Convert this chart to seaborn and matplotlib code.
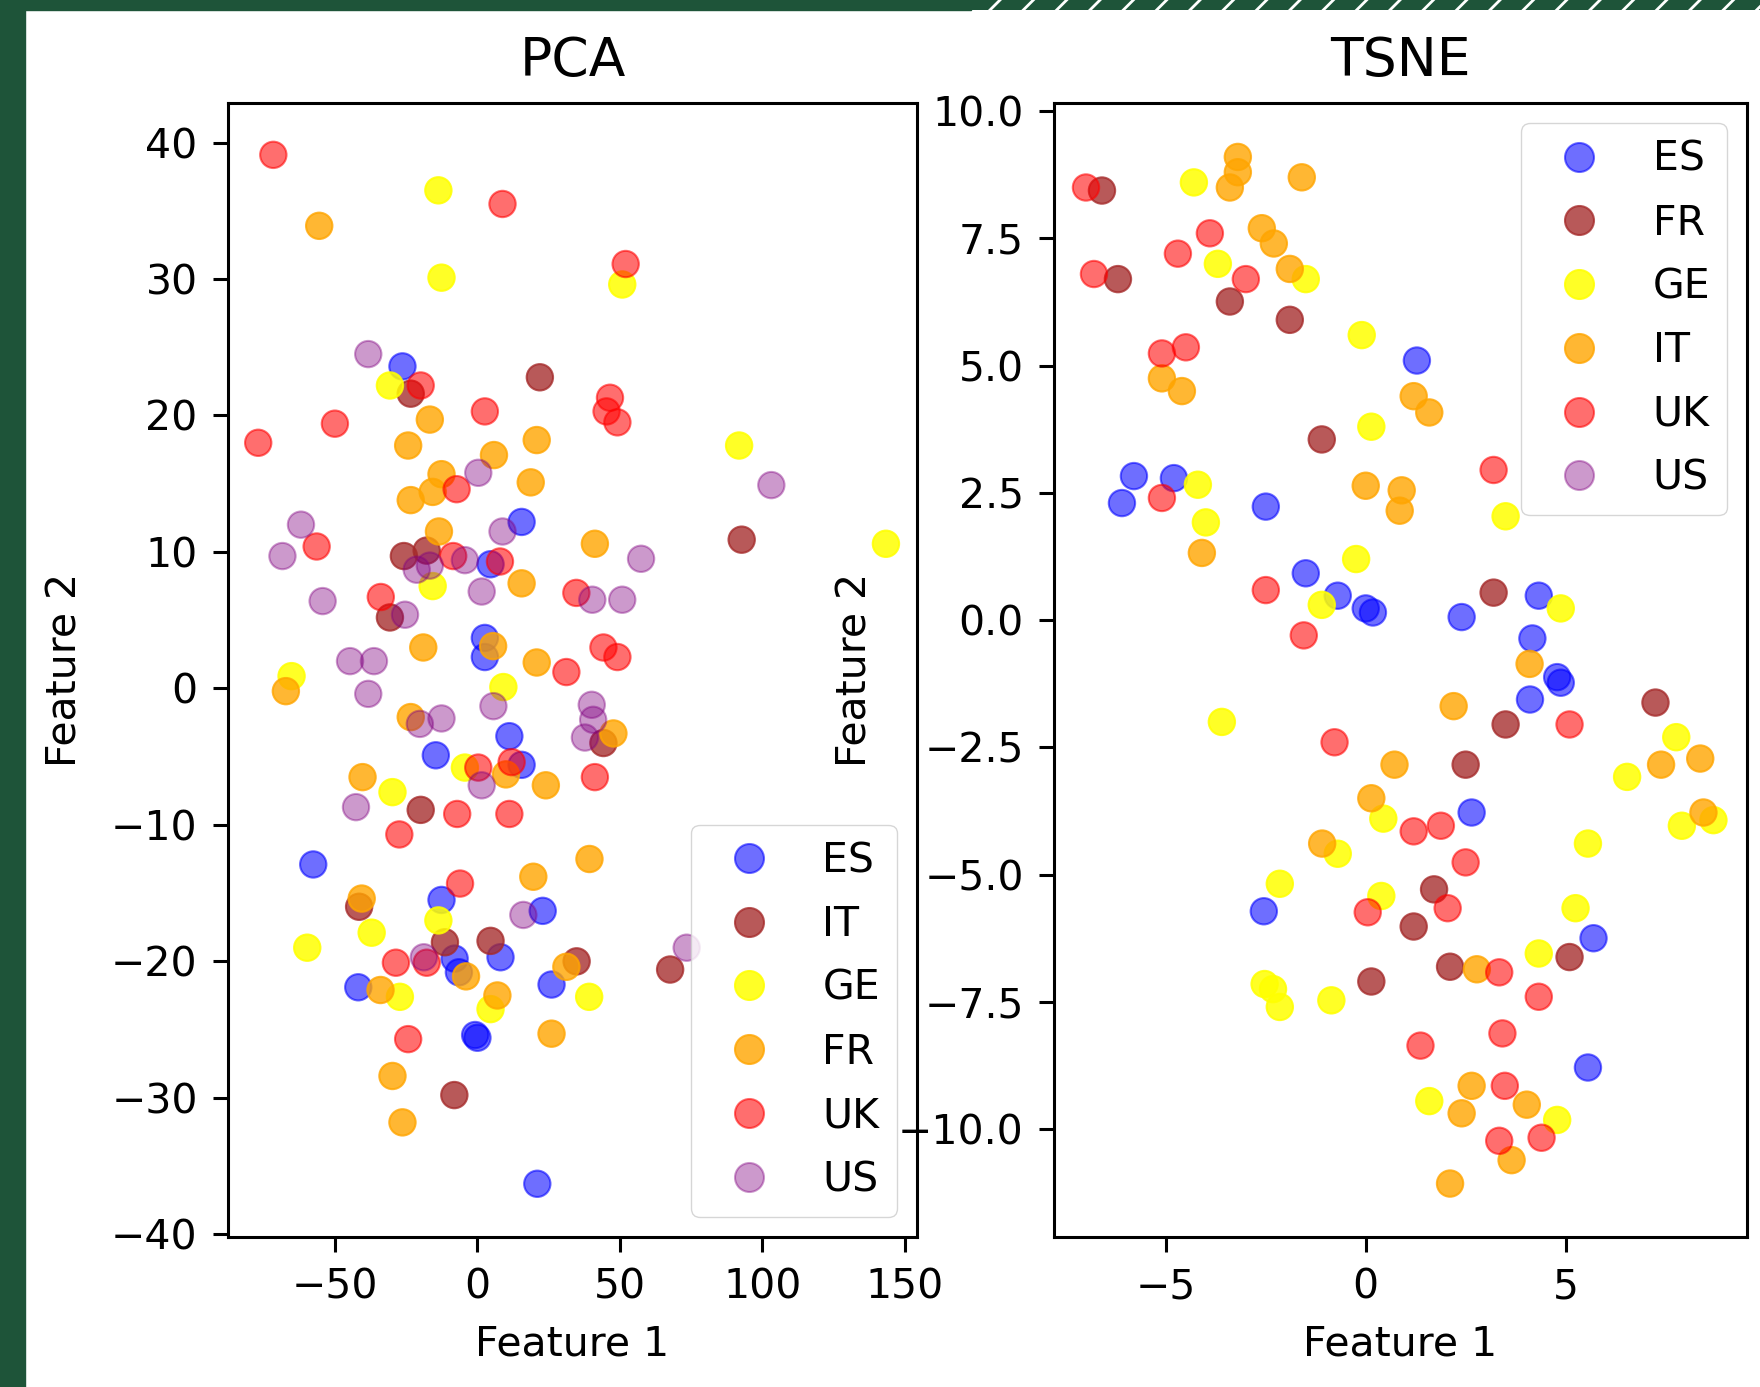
import pandas as pd
import matplotlib
matplotlib.use("Agg")
import matplotlib.pyplot as plt
import seaborn as sns
from matplotlib.patches import Rectangle

# färger i samma ordning i båda legenderna (med genomskinlighet som i bilden)
colors = [(0.0, 0.0, 1.0, 0.57), (0.647, 0.165, 0.165, 0.78), (1.0, 1.0, 0.0, 0.85),
          (1.0, 0.647, 0.0, 0.8), (1.0, 0.0, 0.0, 0.57), (0.5, 0.0, 0.5, 0.4)]

# PCA-punkter (Feature 1, Feature 2) per land
pca_labels = ["ES", "IT", "GE", "FR", "UK", "US"]
pca_es = [(-26.3, 23.6), (15.5, 12.2), (4.6, 9.1), (2.6, 3.7), (2.6, 2.3), (11.2, -3.5),
          (-14.6, -4.9), (15.5, -5.6), (-57.6, -12.9), (-12.6, -15.5), (22.9, -16.3),
          (-8.0, -19.8), (-6.5, -20.8), (8.1, -19.7), (-41.8, -21.9), (26.0, -21.7),
          (-0.8, -25.4), (0.0, -25.6), (21.0, -36.3)]
pca_it = [(-23.4, 21.6), (21.9, 22.8), (-25.8, 9.7), (-17.8, 10.1), (-30.7, 5.2), (92.7, 10.9),
          (44.2, -4.0), (-19.9, -8.9), (-41.5, -16.0), (-11.4, -18.6), (4.6, -18.5),
          (34.8, -20.0), (67.6, -20.6), (-8.1, -29.8)]
pca_ge = [(-13.7, 36.5), (-12.6, 30.1), (50.8, 29.6), (-30.7, 22.2), (91.8, 17.8), (143.3, 10.6),
          (-15.7, 7.5), (-65.2, 0.9), (9.1, 0.1), (-4.4, -5.8), (-29.8, -7.6), (-13.7, -17.0),
          (-37.1, -17.9), (-59.7, -19.0), (-27.2, -22.6), (4.6, -23.5), (39.2, -22.6)]
pca_fr = [(-55.5, 33.9), (-16.7, 19.7), (-24.3, 17.8), (20.8, 18.2), (5.8, 17.1), (18.7, 15.1),
          (-12.6, 15.7), (-15.7, 14.4), (-23.4, 13.8), (-13.5, 11.5), (41.2, 10.6), (15.5, 7.7),
          (5.5, 3.1), (-19.0, 3.0), (20.8, 1.9), (-67.2, -0.2), (-23.4, -2.1), (47.7, -3.3),
          (10.0, -6.3), (24.0, -7.1), (-40.3, -6.5), (19.6, -13.8), (39.3, -12.5),
          (-40.6, -15.4), (-4.0, -21.1), (-34.0, -22.1), (7.0, -22.5), (31.2, -20.4),
          (26.0, -25.3), (-29.8, -28.4), (-26.3, -31.8)]
pca_uk = [(-71.6, 39.1), (8.8, 35.5), (52.0, 31.1), (-19.9, 22.2), (2.6, 20.3), (-50.0, 19.4),
          (-76.9, 18.0), (46.5, 21.3), (45.3, 20.3), (49.1, 19.5), (-7.3, 14.6), (-56.4, 10.4),
          (-8.5, 9.7), (7.9, 9.3), (34.7, 7.0), (-33.9, 6.7), (31.2, 1.2), (44.2, 3.0),
          (49.1, 2.3), (0.3, -5.8), (12.0, -5.4), (41.2, -6.5), (-7.1, -9.2), (11.2, -9.2),
          (-27.4, -10.7), (-6.1, -14.3), (-28.6, -20.1), (-17.8, -20.1), (-24.3, -25.7)]
pca_us = [(-38.3, 24.5), (0.3, 15.8), (-61.9, 12.0), (8.8, 11.5), (-68.4, 9.7), (-21.3, 8.7),
          (-16.7, 9.0), (-4.4, 9.4), (57.4, 9.5), (1.5, 7.1), (-54.3, 6.4), (-25.4, 5.4),
          (40.3, 6.5), (50.8, 6.5), (-44.7, 2.0), (-36.3, 2.0), (-38.3, -0.4), (5.6, -1.3),
          (-20.2, -2.6), (-12.6, -2.2), (40.1, -1.2), (40.6, -2.3), (37.7, -3.6), (1.5, -7.1),
          (-42.6, -8.7), (16.1, -16.6), (-18.8, -19.7), (73.4, -19.0), (103.1, 14.9)]

# TSNE-punkter per land (US syns inte i bilden)
tsne_labels = ["ES", "FR", "GE", "IT", "UK", "US"]
tsne_es = [(1.28, 5.1), (-5.8, 2.83), (-4.8, 2.79), (-6.1, 2.3), (-2.5, 2.23), (-1.5, 0.92),
           (-0.7, 0.48), (0.0, 0.23), (0.18, 0.15), (2.4, 0.06), (4.33, 0.48), (4.17, -0.36),
           (4.79, -1.12), (4.88, -1.23), (4.11, -1.56), (2.65, -3.78), (-2.55, -5.72),
           (5.7, -6.25), (5.56, -8.79)]
tsne_fr = [(-6.6, 8.44), (-6.2, 6.7), (-3.4, 6.26), (-1.9, 5.9), (-1.1, 3.55), (3.2, 0.54),
           (3.5, -2.05), (7.25, -1.62), (2.5, -2.84), (1.71, -5.29), (1.2, -6.02), (5.1, -6.62),
           (2.11, -6.81), (0.14, -7.1)]
tsne_ge = [(-4.3, 8.6), (-3.7, 7.0), (-1.5, 6.7), (-0.1, 5.6), (0.14, 3.8), (3.5, 2.04),
           (-4.2, 2.66), (-4.0, 1.92), (-0.24, 1.2), (-1.1, 0.3), (4.88, 0.23), (-3.6, -2.0),
           (7.77, -2.3), (6.54, -3.08), (7.91, -4.04), (8.7, -3.93), (0.44, -3.9), (-0.7, -4.59),
           (5.56, -4.39), (-2.15, -5.18), (0.39, -5.42), (5.25, -5.66), (4.33, -6.55),
           (-2.53, -7.15), (-2.32, -7.25), (-2.15, -7.6), (-0.86, -7.47), (1.59, -9.45),
           (4.79, -9.82)]
tsne_it = [(-3.2, 9.1), (-3.2, 8.8), (-3.4, 8.5), (-1.6, 8.7), (-2.6, 7.7), (-2.3, 7.4),
           (-1.9, 6.9), (-5.1, 4.75), (-4.6, 4.5), (1.2, 4.4), (1.59, 4.08), (0.0, 2.64),
           (0.9, 2.55), (0.85, 2.15), (-4.1, 1.32), (4.1, -0.86), (2.2, -1.69), (7.39, -2.84),
           (8.37, -2.72), (8.45, -3.78), (0.72, -2.84), (0.14, -3.5), (-1.09, -4.39),
           (2.78, -6.86), (2.65, -9.15), (2.4, -9.69), (4.03, -9.52), (3.65, -10.61),
           (2.11, -11.07)]
tsne_uk = [(-7.0, 8.5), (-3.9, 7.6), (-4.7, 7.2), (-3.0, 6.7), (-6.8, 6.8), (-5.1, 5.24),
           (-4.5, 5.36), (-5.1, 2.4), (3.2, 2.95), (-2.5, 0.59), (-1.55, -0.3), (-0.78, -2.4),
           (5.1, -2.05), (1.2, -4.15), (1.88, -4.04), (2.5, -4.76), (0.05, -5.74), (2.05, -5.66),
           (3.34, -6.92), (4.33, -7.4), (3.42, -8.12), (1.37, -8.36), (3.48, -9.15),
           (3.34, -10.23), (4.4, -10.17)]
tsne_us = []


def make_df(labels, groups):
    rows = []
    for lab, pts in zip(labels, groups):
        for x, y in pts:
            rows.append((x, y, lab))
    return pd.DataFrame(rows, columns=["f1", "f2", "land"])


df_pca = make_df(pca_labels, [pca_es, pca_it, pca_ge, pca_fr, pca_uk, pca_us])
df_tsne = make_df(tsne_labels, [tsne_es, tsne_fr, tsne_ge, tsne_it, tsne_uk, tsne_us])

plt.rcParams["hatch.linewidth"] = 2.0
W, H = 1760, 1387
fig = plt.figure(figsize=(W / 100, H / 100), dpi=100)

# mörkgrön ram från skärmdumpen
green = "#1e5439"
fig.patches.append(Rectangle((0, 0), 25 / W, 1, transform=fig.transFigure, color=green, zorder=0))
fig.patches.append(Rectangle((0, 1 - 10 / H), 971 / W, 10 / H, transform=fig.transFigure,
                             color=green, zorder=0))
fig.patches.append(Rectangle((971 / W, 1 - 10 / H), 1 - 971 / W, 10 / H, transform=fig.transFigure,
                             facecolor=green, edgecolor="white", hatch="/", linewidth=0, zorder=0))

ax1 = fig.add_axes([228 / W, 1 - 1237 / H, 689 / W, 1134 / H])
ax2 = fig.add_axes([1054 / W, 1 - 1237 / H, 693 / W, 1134 / H])

fs = 29.5
panels = [
    (ax1, df_pca, pca_labels, "PCA", (-87.5, 154.2), (-40.2, 42.9),
     [-50, 0, 50, 100, 150], [-40, -30, -20, -10, 0, 10, 20, 30, 40], "lower right", -0.207),
    (ax2, df_tsne, tsne_labels, "TSNE", (-7.8, 9.54), (-12.12, 10.16),
     [-5, 0, 5], [-10.0, -7.5, -5.0, -2.5, 0.0, 2.5, 5.0, 7.5, 10.0], "upper right", -0.258),
]

for ax, df, labels, title, xlim, ylim, xt, yt, loc, ylab_x in panels:
    sns.scatterplot(data=df, x="f1", y="f2", hue="land", hue_order=labels,
                    palette=dict(zip(labels, colors)), s=360,
                    edgecolor="face", linewidth=1.5, ax=ax)
    ax.set_xlim(xlim)
    ax.set_ylim(ylim)
    ax.set_xticks(xt)
    ax.set_yticks(yt)
    ax.set_title(title, fontsize=38.5, pad=19.4)
    ax.set_xlabel("Feature 1", fontsize=fs, labelpad=12.5)
    ax.set_ylabel("Feature 2", fontsize=fs)
    ax.yaxis.set_label_coords(ylab_x, 0.5)
    ax.tick_params(labelsize=fs, length=10.8, width=2.2, pad=11)
    for sp in ax.spines.values():
        sp.set_linewidth(2.2)
    sns.move_legend(ax, loc, title=None, fontsize=fs, frameon=True,
                    labelspacing=0.58, markerscale=1.1)

fig.savefig("out.png", dpi=100)
